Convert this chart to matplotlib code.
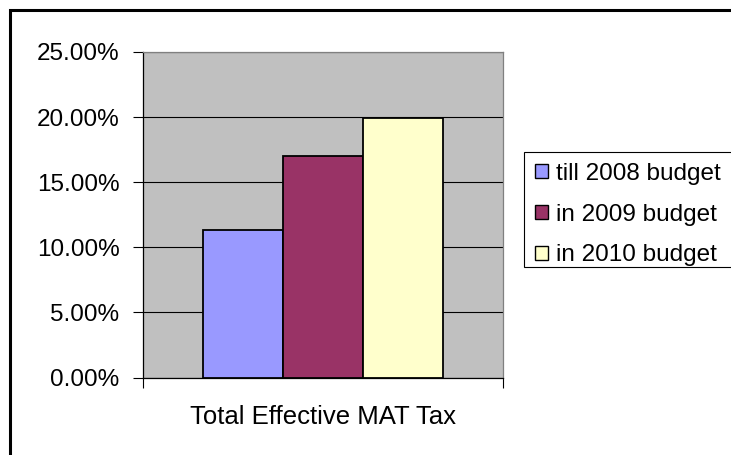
import matplotlib.pyplot as plt
from matplotlib.patches import Rectangle
from matplotlib.ticker import FuncFormatter

plt.rcParams['font.family'] = ['Liberation Sans', 'DejaVu Sans']

category = "Total Effective MAT Tax"
series = ["till 2008 budget", "in 2009 budget", "in 2010 budget"]
values = [11.33, 17.0, 19.93]
colors = ["#9999FF", "#993366", "#FFFFCC"]
y_ticks = [0, 5, 10, 15, 20, 25]

W, H = 731, 455
fig = plt.figure(figsize=(W / 100, H / 100), dpi=100)

# outer chart frame (right and bottom run off the picture)
fig.patches.append(Rectangle((10 / W, -0.05), 1.1, 1 - 10 / H + 0.05, transform=fig.transFigure,
                             fill=False, edgecolor="black", linewidth=2.2, clip_on=False))
# legend box, also cut off at the right
fig.patches.append(Rectangle((524 / W, 1 - 267 / H), 0.5, 115 / H, transform=fig.transFigure,
                             facecolor="white", edgecolor="black", linewidth=0.8, clip_on=False))

ax = fig.add_axes([143 / W, 1 - 377.5 / H, 360 / W, 325.5 / H])
ax.set_facecolor("#C0C0C0")

bar_w = 80 / 360
for i, (name, v, c) in enumerate(zip(series, values, colors)):
    ax.bar((i - 1) * bar_w, v, width=bar_w, color=c, edgecolor="black", linewidth=1.3,
           label=name, zorder=3)

ax.set_xlim(-0.5, 0.5)
ax.set_ylim(0, 25)
ax.set_yticks(y_ticks)
ax.yaxis.set_major_formatter(FuncFormatter(lambda v, p: f"{v:.2f}%"))
ax.grid(axis="y", color="black", linewidth=0.8, zorder=1)
ax.set_xticks([-0.5, 0.5])
ax.set_xticklabels(["", ""])
ax.tick_params(axis="both", direction="out", length=7, width=0.8, color="black",
               labelsize=17.5, pad=10)
for s in ax.spines.values():
    s.set_color("#808080")
    s.set_linewidth(0.9)
ax.spines["left"].set_color("black")
ax.spines["bottom"].set_color("black")

ax.text(0, -0.12, category, transform=ax.get_xaxis_transform(), ha="center", va="center",
        fontsize=18.5)

leg = fig.legend(loc="upper left", bbox_to_anchor=(524 / W, 1 - 152 / H), borderaxespad=0,
                 fontsize=17.5, frameon=False,
                 handlelength=0.52, handleheight=0.52, handletextpad=0.35,
                 labelspacing=0.77, borderpad=0.45)
for h in leg.legend_handles:
    h.set_linewidth(1.0)

fig.savefig("out.png", dpi=100)
